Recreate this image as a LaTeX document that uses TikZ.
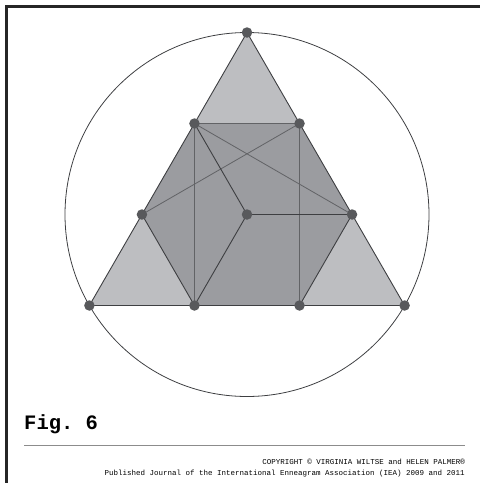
\documentclass[tikz,border=0pt]{standalone}
\usepackage{fontspec}
\setmonofont{Liberation Mono}
\usetikzlibrary{calc}
\definecolor{lightfill}{HTML}{BDBEC1}
\definecolor{darkfill}{HTML}{9B9CA0}
\definecolor{dotcol}{HTML}{58595C}
\definecolor{edgecol}{HTML}{3E3F42}
\definecolor{innercol}{HTML}{626366}
\tikzset{
  dotnode/.style={circle, fill=dotcol, inner sep=0pt, minimum size=10.5pt},
  edgeline/.style={draw=edgecol, line width=0.9pt},
  innerline/.style={draw=innercol, line width=0.8pt},
  frameline/.style={draw=black!85, line width=3pt},
}
\begin{document}
\begin{tikzpicture}[x=1pt,y=-1pt]
\useasboundingbox (0,0) rectangle (480,483);
% frame
\draw[frameline] (6,483) -- (6,6) -- (480,6);
% geometry
\coordinate (C) at (247,214.5);
\coordinate (T) at (247,32.5);
\coordinate (BL) at ($(C)+(-157.6,91)$);
\coordinate (BR) at ($(C)+(157.6,91)$);
\coordinate (TL) at ($(T)!1/3!(BL)$);
\coordinate (TR) at ($(T)!1/3!(BR)$);
\coordinate (ML) at ($(T)!2/3!(BL)$);
\coordinate (MR) at ($(T)!2/3!(BR)$);
\coordinate (BML) at ($(BL)!1/3!(BR)$);
\coordinate (BMR) at ($(BL)!2/3!(BR)$);
% circle
\draw[edgecol, line width=0.8pt] (C) circle (182);
% fills
\fill[lightfill] (T) -- (BL) -- (BR) -- cycle;
\fill[darkfill] (TL) -- (TR) -- (MR) -- (BMR) -- (BML) -- (ML) -- cycle;
% inner lines
\draw[innerline] (TL) -- (TR);
\draw[innerline] (TL) -- (BML);
\draw[innerline] (TR) -- (BMR);
\draw[innerline] (TL) -- (MR);
\draw[innerline] (TR) -- (ML);
\draw[edgeline] (TL) -- (C);
\draw[edgeline] (C) -- (BML);
\draw[edgeline] (C) -- (MR);
\draw[edgeline] (ML) -- (BML);
\draw[edgeline] (MR) -- (BMR);
% outer triangle edges
\draw[edgeline] (T) -- (BL) -- (BR) -- cycle;
% dots
\foreach \p in {T,BL,BR,TL,TR,ML,MR,BML,BMR,C}
  \node[dotnode] (d\p) at (\p) {};
% caption
\node[anchor=base west, inner sep=0pt, font=\ttfamily\bfseries\fontsize{20.5}{24}\selectfont] (fig) at (24,429) {Fig. 6};
\coordinate (hrl) at (24,445);
\coordinate (hrr) at (465,445);
\draw[black!45, line width=0.8pt] (hrl) -- (hrr);
\node[anchor=base east, inner sep=0pt, font=\ttfamily\fontsize{7.5}{9}\selectfont] (copy1) at (465,464) {COPYRIGHT © VIRGINIA WILTSE and HELEN PALMER®};
\node[anchor=base east, inner sep=0pt, font=\ttfamily\fontsize{7.5}{9}\selectfont] (copy2) at (465,475) {Published Journal of the International Enneagram Association (IEA) 2009 and 2011};
\end{tikzpicture}
\end{document}
